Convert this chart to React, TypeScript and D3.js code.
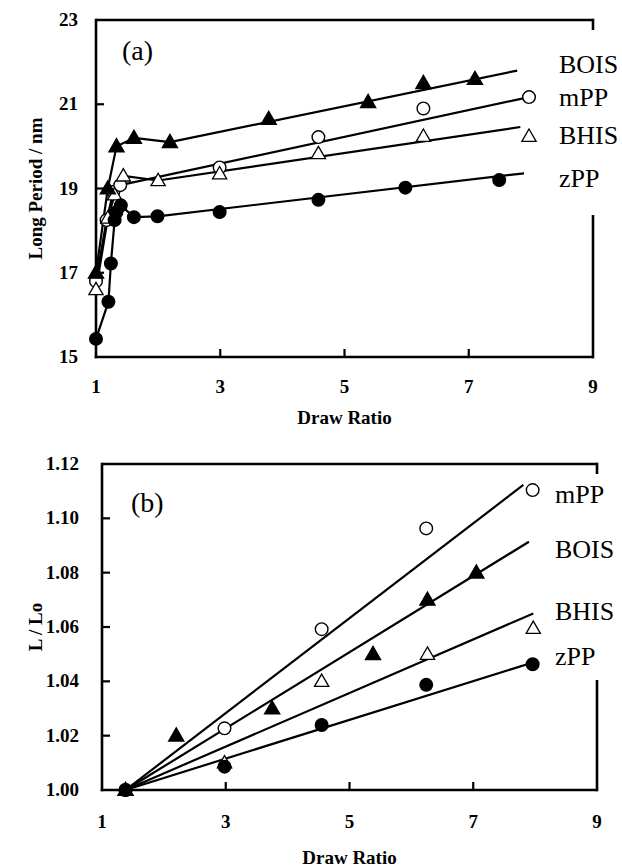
import React from "react";
import * as d3 from "d3";

// ---------- Panel (a) data: Long Period vs Draw Ratio ----------
const aBoisX = [1.0, 1.19, 1.33, 1.61, 2.19, 3.78, 5.38, 6.27, 7.1];
const aBoisY = [17.0, 19.0, 20.0, 20.2, 20.1, 20.65, 21.05, 21.5, 21.6];
const aBoisLineX = [1.0, 1.19, 1.33, 1.61, 2.19, 7.78];
const aBoisLineY = [17.0, 19.0, 20.0, 20.2, 20.1, 21.8];

const aMppX = [1.0, 1.17, 1.28, 1.39, 2.99, 4.58, 6.27, 7.97];
const aMppY = [16.8, 18.25, 18.92, 19.08, 19.5, 20.22, 20.9, 21.17];
const aMppLineX = [1.0, 1.17, 1.28, 1.39, 7.97];
const aMppLineY = [16.8, 18.25, 18.92, 19.08, 21.17];

const aBhisX = [1.0, 1.19, 1.3, 1.44, 2.0, 2.99, 4.58, 6.27, 7.97];
const aBhisY = [16.6, 18.3, 18.85, 19.3, 19.19, 19.35, 19.83, 20.24, 20.24];
const aBhisLineX = [1.0, 1.19, 1.3, 1.44, 2.0, 7.83];
const aBhisLineY = [16.6, 18.3, 18.85, 19.3, 19.19, 20.46];

const aZppX = [1.0, 1.2, 1.24, 1.3, 1.33, 1.4, 1.61, 1.99, 2.99, 4.58, 5.98, 7.49];
const aZppY = [15.43, 16.31, 17.22, 18.25, 18.44, 18.6, 18.32, 18.34, 18.44, 18.73, 19.02, 19.2];
const aZppLineX = [1.0, 1.2, 1.24, 1.3, 1.33, 1.4, 1.61, 1.99, 7.89];
const aZppLineY = [15.43, 16.31, 17.22, 18.25, 18.44, 18.6, 18.32, 18.34, 19.36];

const aYTicks = [15, 17, 19, 21, 23];
const aLegend = ["BOIS", "mPP", "BHIS", "zPP"];
const aLegendY = [21.95, 21.17, 20.27, 19.25];

// ---------- Panel (b) data: L / Lo vs Draw Ratio ----------
const bMppX = [1.38, 2.98, 4.55, 6.24, 7.96];
const bMppY = [1.0, 1.0227, 1.0592, 1.0963, 1.1104];
const bMppLineX = [1.38, 7.81];
const bMppLineY = [1.0, 1.1123];

const bBoisX = [1.38, 2.2, 3.75, 5.38, 6.26, 7.05];
const bBoisY = [1.0, 1.02, 1.03, 1.05, 1.07, 1.08];
const bBoisLineX = [1.38, 7.9];
const bBoisLineY = [1.0, 1.0914];

const bBhisX = [1.38, 2.98, 4.55, 6.26, 7.97];
const bBhisY = [1.0, 1.01, 1.04, 1.05, 1.0595];
const bBhisLineX = [1.38, 7.97];
const bBhisLineY = [1.0, 1.065];

const bZppX = [1.38, 2.98, 4.55, 6.24, 7.96];
const bZppY = [1.0, 1.0086, 1.0239, 1.0387, 1.0463];
const bZppLineX = [1.38, 7.9];
const bZppLineY = [1.0, 1.0465];

const bYTicks = [1.0, 1.02, 1.04, 1.06, 1.08, 1.1, 1.12];
const bLegend = ["mPP", "BOIS", "BHIS", "zPP"];
const bLegendY = [1.109, 1.0887, 1.0659, 1.0493];

const xTicks = [1, 3, 5, 7, 9];

const SERIF = "'Liberation Serif', 'Times New Roman', serif";

type Marker = "filledTri" | "openTri" | "filledCircle" | "openCircle";

function MarkerShape({ cx, cy, kind }: { cx: number; cy: number; kind: Marker }) {
  if (kind === "filledCircle" || kind === "openCircle") {
    return (
      <circle
        cx={cx}
        cy={cy}
        r={6.3}
        fill={kind === "filledCircle" ? "#000" : "#fff"}
        stroke="#000"
        strokeWidth={1.4}
      />
    );
  }
  const tri = d3.symbol().type(d3.symbolTriangle).size(kind === "filledTri" ? 100 : 88)();
  return (
    <path
      d={tri || ""}
      transform={`translate(${cx},${cy + 1})`}
      fill={kind === "filledTri" ? "#000" : "#fff"}
      stroke="#000"
      strokeWidth={1.3}
    />
  );
}

interface Series {
  px: number[];
  py: number[];
  lx: number[];
  ly: number[];
  kind: Marker;
}

function Panel({
  x,
  y,
  yTicks,
  yFmt,
  series,
  legend,
  legendY,
  legendX,
  tag,
  tagPos,
  yTitle,
  gap,
  xTickLabelY,
  xTitleY,
  yLabelRight,
}: {
  x: d3.ScaleLinear<number, number>;
  y: d3.ScaleLinear<number, number>;
  yTicks: number[];
  yFmt: (v: number) => string;
  series: Series[];
  legend: string[];
  legendY: number[];
  legendX: number;
  tag: string;
  tagPos: [number, number];
  yTitle: string;
  gap: [number, number];
  xTickLabelY: number;
  xTitleY: number;
  yLabelRight: number;
}) {
  const [x0, x1] = x.range();
  const [y0, y1] = y.range(); // y0 bottom, y1 top
  const line = d3
    .line<[number, number]>()
    .x((d) => x(d[0]))
    .y((d) => y(d[1]));
  const order = [...series].sort((a, b) => {
    const filled = (k: Marker) => (k.startsWith("filled") ? 1 : 0);
    return filled(a.kind) - filled(b.kind);
  });
  return (
    <g>
      {/* frame */}
      <line x1={x0} x2={x1} y1={y1} y2={y1} stroke="#000" strokeWidth={2.6} />
      <line x1={x0} x2={x0} y1={y1 - 1.3} y2={y0 + 1.3} stroke="#000" strokeWidth={2.6} />
      <line x1={x0 - 1.3} x2={x1} y1={y0} y2={y0} stroke="#000" strokeWidth={2.6} />
      <line x1={x1} x2={x1} y1={y1 - 1.3} y2={gap[0]} stroke="#000" strokeWidth={2.6} />
      <line x1={x1} x2={x1} y1={gap[1]} y2={y0 + 1.3} stroke="#000" strokeWidth={2.6} />
      {/* ticks */}
      {yTicks.slice(1, -1).map((t) => (
        <line key={"yt" + t} x1={x0} x2={x0 + 8} y1={y(t)} y2={y(t)} stroke="#000" strokeWidth={2.2} />
      ))}
      {xTicks.slice(1, -1).map((t) => (
        <line key={"xt" + t} x1={x(t)} x2={x(t)} y1={y0} y2={y0 - 8} stroke="#000" strokeWidth={2.2} />
      ))}
      {yTicks.map((t) => (
        <text
          key={"yl" + t}
          x={yLabelRight}
          y={y(t) + 6}
          textAnchor="end"
          fontFamily={SERIF}
          fontWeight="bold"
          fontSize={19}
        >
          {yFmt(t)}
        </text>
      ))}
      {xTicks.map((t) => (
        <text
          key={"xl" + t}
          x={x(t)}
          y={xTickLabelY}
          textAnchor="middle"
          fontFamily={SERIF}
          fontWeight="bold"
          fontSize={19}
        >
          {t}
        </text>
      ))}
      <text
        x={(x0 + x1) / 2}
        y={xTitleY}
        textAnchor="middle"
        fontFamily={SERIF}
        fontWeight="bold"
        fontSize={19}
      >
        Draw Ratio
      </text>
      <text
        transform={`translate(42,${(y0 + y1) / 2}) rotate(-90)`}
        textAnchor="middle"
        fontFamily={SERIF}
        fontWeight="bold"
        fontSize={19}
      >
        {yTitle}
      </text>
      <text x={tagPos[0]} y={tagPos[1]} fontFamily={SERIF} fontSize={28}>
        {tag}
      </text>
      {/* lines */}
      {series.map((s, i) => (
        <path
          key={"ln" + i}
          d={line(s.lx.map((v, j) => [v, s.ly[j]] as [number, number])) || ""}
          fill="none"
          stroke="#000"
          strokeWidth={2.2}
          strokeLinejoin="round"
        />
      ))}
      {/* markers */}
      {order.map((s, i) =>
        s.px.map((v, j) => <MarkerShape key={"m" + i + "-" + j} cx={x(v)} cy={y(s.py[j])} kind={s.kind} />)
      )}
      {/* legend labels */}
      {legend.map((name, i) => (
        <text key={"lg" + name} x={legendX} y={y(legendY[i]) + 9} fontFamily={SERIF} fontSize={26}>
          {name}
        </text>
      ))}
    </g>
  );
}

export default function App() {
  const xA = d3.scaleLinear().domain([1, 9]).range([96, 593]);
  const yA = d3.scaleLinear().domain([15, 23]).range([357, 20]);
  const xB = d3.scaleLinear().domain([1, 9]).range([102, 597]);
  const yB = d3.scaleLinear().domain([1.0, 1.12]).range([790, 464]);

  const seriesA: Series[] = [
    { px: aBoisX, py: aBoisY, lx: aBoisLineX, ly: aBoisLineY, kind: "filledTri" },
    { px: aMppX, py: aMppY, lx: aMppLineX, ly: aMppLineY, kind: "openCircle" },
    { px: aBhisX, py: aBhisY, lx: aBhisLineX, ly: aBhisLineY, kind: "openTri" },
    { px: aZppX, py: aZppY, lx: aZppLineX, ly: aZppLineY, kind: "filledCircle" },
  ];
  const seriesB: Series[] = [
    { px: bMppX, py: bMppY, lx: bMppLineX, ly: bMppLineY, kind: "openCircle" },
    { px: bBoisX, py: bBoisY, lx: bBoisLineX, ly: bBoisLineY, kind: "filledTri" },
    { px: bBhisX, py: bBhisY, lx: bBhisLineX, ly: bBhisLineY, kind: "openTri" },
    { px: bZppX, py: bZppY, lx: bZppLineX, ly: bZppLineY, kind: "filledCircle" },
  ];

  return (
    <svg
      width={622}
      height={867}
      viewBox="0 0 622 867"
      style={{ position: "absolute", left: 0, top: 0, background: "#fff" }}
    >
      <rect x={0} y={0} width={622} height={867} fill="#fff" />
      <Panel
        x={xA}
        y={yA}
        yTicks={aYTicks}
        yFmt={(v) => String(v)}
        series={seriesA}
        legend={aLegend}
        legendY={aLegendY}
        legendX={559}
        tag="(a)"
        tagPos={[122, 60]}
        yTitle="Long Period / nm"
        gap={[30, 215]}
        xTickLabelY={393}
        xTitleY={424}
        yLabelRight={78}
      />
      <Panel
        x={xB}
        y={yB}
        yTicks={bYTicks}
        yFmt={(v) => v.toFixed(2)}
        series={seriesB}
        legend={bLegend}
        legendY={bLegendY}
        legendX={555}
        tag="(b)"
        tagPos={[131, 512]}
        yTitle="L / Lo"
        gap={[474, 680]}
        xTickLabelY={828}
        xTitleY={864}
        yLabelRight={79}
      />
    </svg>
  );
}
